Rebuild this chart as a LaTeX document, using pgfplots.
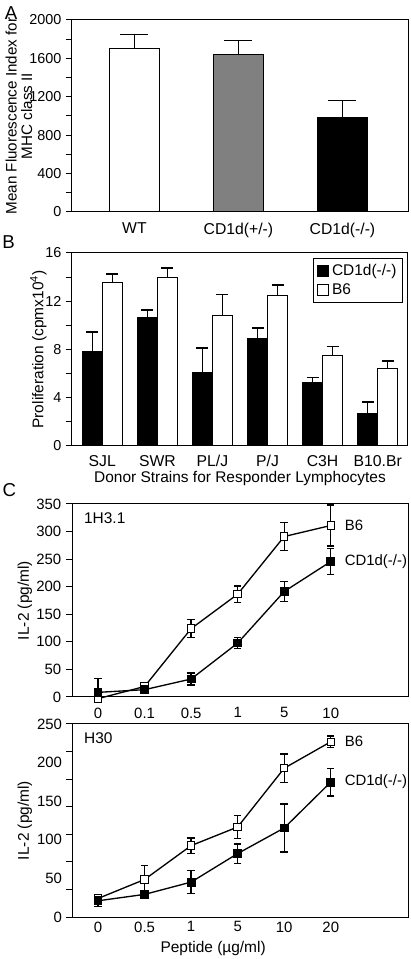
\documentclass[border=0pt]{standalone}
\usepackage{fontspec}
\setmainfont{Liberation Sans}
\usepackage{pgfplots}
\pgfplotsset{compat=1.18}
\begin{document}
\begin{tikzpicture}
\path[use as bounding box] (0,0) rectangle (307.5pt,719.25pt);
\pgfplotsset{
  common/.style={
    scale only axis, width=252pt, height=144.75pt,
    axis line style={line width=0.75pt, black},
    tick align=outside, ytick pos=left, xtick pos=bottom,
    major tick length=4.5pt, minor tick length=4.5pt,
    every tick/.style={black, line width=0.75pt},
    xtick style={draw=none},
    /pgf/number format/assume math mode=true,
    /pgf/number format/1000 sep={},
    tick label style={font=\fontsize{10.8}{12}\selectfont},
    xticklabel style={font=\fontsize{11.8}{13}\selectfont},
    label style={font=\fontsize{11.6}{13.5}\selectfont},
  },
  errstyle/.style={
    error bars/error bar style={line width=1pt, black},
    error bars/error mark options={rotate=90, mark size=#1, line width=1pt, black},
  },
}
% ---------- Panel A ----------
\node[font=\fontsize{14}{15}\selectfont] at (8.25pt,709.5pt) {A};
\begin{axis}[common, at={(54pt,560.25pt)}, anchor=south west, height=144pt,
  ymin=0, ymax=2000, ytick={0,400,...,2000}, minor ytick={200,600,...,1800},
  xmin=-0.6, xmax=2.63, xtick={0,1,2}, xticklabels={WT, CD1d(+/-), CD1d(-/-)},
  ylabel={Mean Fluorescence Index for\\MHC class II},
  ylabel style={at={(axis description cs:-0.158,0.5)}, anchor=center, align=center,
    font=\fontsize{11.4}{11.6}\selectfont},
]
\addplot[ybar, bar shift=0pt, bar width=37.5pt, fill=white, draw=black, line width=0.75pt,
  errstyle=10.5pt, error bars/.cd, y dir=plus, y explicit]
  coordinates {(0,1705) +- (0,142)};
\addplot[ybar, bar shift=0pt, bar width=37.5pt, fill=black!50, draw=black, line width=0.75pt,
  errstyle=10.5pt, error bars/.cd, y dir=plus, y explicit]
  coordinates {(1,1636) +- (0,149)};
\addplot[ybar, bar shift=0pt, bar width=37.5pt, fill=black, draw=black, line width=0.75pt,
  errstyle=10.5pt, error bars/.cd, y dir=plus, y explicit]
  coordinates {(2,988) +- (0,173)};
\end{axis}
% ---------- Panel B ----------
\node[font=\fontsize{14}{15}\selectfont] at (6.5pt,537.75pt) {B};
\begin{axis}[common, at={(54pt,384.75pt)}, anchor=south west,
  ybar=0pt, bar width=15pt,
  ymin=0, ymax=16, ytick={0,4,...,16}, minor ytick={2,6,10,14},
  xmin=-0.55, xmax=5.55, xtick={0,...,5}, xticklabels={SJL,SWR,PL/J,P/J,C3H,B10.Br},
  xticklabel style={yshift=1pt},
  ylabel={Proliferation (cpmx10\textsuperscript{4})},
  ylabel style={at={(axis description cs:-0.1,0.5)}, anchor=center},
  xlabel={Donor Strains for Responder Lymphocytes},
  xlabel style={at={(axis description cs:0.5,-0.168)}, anchor=center},
  legend style={at={(axis description cs:0.985,0.975)}, anchor=north east,
    draw=black, line width=0.75pt, font=\fontsize{11.6}{13}\selectfont,
    row sep=0.5pt, inner sep=2.5pt},
  legend cell align=left,
]
\addplot[fill=black, draw=black, line width=0.75pt, errstyle=4.5pt,
  legend image code/.code={\draw[fill=black,draw=black,line width=0.75pt] (0pt,-4.2pt) rectangle (8.4pt,4.2pt);},
  error bars/.cd, y dir=plus, y explicit]
  coordinates {(0,7.87) +- (0,1.59) (1,10.66) +- (0,0.61) (2,6.12) +- (0,2.0)
               (3,8.88) +- (0,0.91) (4,5.23) +- (0,0.47) (5,2.73) +- (0,0.92)};
\addlegendentry{CD1d(-/-)}
\addplot[fill=white, draw=black, line width=0.75pt, errstyle=4.5pt,
  legend image code/.code={\draw[fill=white,draw=black,line width=0.75pt] (0pt,-4.2pt) rectangle (8.4pt,4.2pt);},
  error bars/.cd, y dir=plus, y explicit]
  coordinates {(0,13.52) +- (0,0.73) (1,13.97) +- (0,0.78) (2,10.8) +- (0,1.78)
               (3,12.47) +- (0,0.89) (4,7.54) +- (0,0.72) (5,6.43) +- (0,0.61)};
\addlegendentry{B6}
\end{axis}
% ---------- Panel C top ----------
\node[font=\fontsize{14}{15}\selectfont] at (7pt,351.75pt) {C};
\begin{axis}[common, at={(54pt,196.5pt)}, anchor=south west, clip=false,
  ymin=0, ymax=350, ytick={0,50,...,350},
  xmin=-0.56, xmax=6.66, xtick={0,...,5}, xticklabels={0,0.1,0.5,1,5,10},
  tick label style={font=\fontsize{11.2}{12}\selectfont},
  xticklabel style={font=\fontsize{11.2}{12}\selectfont},
  ylabel={IL-2 (pg/ml)},
  ylabel style={at={(axis description cs:-0.14,0.5)}, anchor=center},
]
\addplot[black, line width=1pt, mark=square*, mark size=2.8pt,
  mark options={fill=white, draw=black, line width=0.75pt}, errstyle=2.8pt,
  error bars/.cd, y dir=both, y explicit]
  coordinates {(0,-3) +- (0,7) (1,19) +- (0,5) (2,124) +- (0,16)
               (3,186.5) +- (0,15) (4,291) +- (0,25) (5,311) +- (0,37)};
\addplot[black, line width=1pt, mark=square*, mark size=2.8pt,
  mark options={fill=black, draw=black}, errstyle=2.8pt,
  error bars/.cd, y dir=both, y explicit]
  coordinates {(0,8.4) += (0,25) -= (0,0) (1,13.3) +- (0,5) (2,32.6) +- (0,11)
               (3,97.8) +- (0,10) (4,191.3) +- (0,18) (5,245.6) +- (0,24)};
\node[anchor=west, font=\fontsize{11.6}{13}\selectfont] at (axis description cs:0.022,0.927) {1H3.1};
\node[anchor=west, font=\fontsize{11.2}{12}\selectfont] at (axis cs:5,311) [xshift=7pt] {B6};
\node[anchor=west, font=\fontsize{11.2}{12}\selectfont] at (axis cs:5,245.6) [xshift=7pt] {CD1d(-/-)};
\end{axis}
% ---------- Panel C bottom ----------
\begin{axis}[common, at={(54pt,31.5pt)}, anchor=south west, clip=false,
  ymin=0, ymax=250, ytick={0,50,...,250}, major tick length=0pt,
  minor ytick={0,35.714,71.429,107.143,142.857,178.571,214.286,250},
  xmin=-0.56, xmax=6.66, xtick={0,...,5}, xticklabels={0,0.5,1,5,10,20},
  tick label style={font=\fontsize{11.2}{12}\selectfont},
  xticklabel style={font=\fontsize{11.2}{12}\selectfont},
  yticklabel style={xshift=-4pt},
  ylabel={IL-2 (pg/ml)},
  ylabel style={at={(axis description cs:-0.14,0.5)}, anchor=center},
  xlabel={Peptide (µg/ml)},
  xlabel style={at={(axis description cs:0.42,-0.165)}, anchor=center},
]
\addplot[black, line width=1pt, mark=square*, mark size=2.8pt,
  mark options={fill=white, draw=black, line width=0.75pt}, errstyle=2.8pt,
  error bars/.cd, y dir=both, y explicit]
  coordinates {(0,24) +- (0,5) (1,48.6) +- (0,18) (2,92.5) +- (0,10)
               (3,116.6) +- (0,14.6) (4,192.7) +- (0,18.6) (5,227) +- (0,7.5)};
\addplot[black, line width=1pt, mark=square*, mark size=2.8pt,
  mark options={fill=black, draw=black}, errstyle=2.8pt,
  error bars/.cd, y dir=both, y explicit]
  coordinates {(0,21) +- (0,7) (1,29.3) +- (0,4) (2,45.2) +- (0,15)
               (3,82.2) +- (0,12.5) (4,115.3) +- (0,31) (5,174.7) +- (0,18)};
\node[anchor=west, font=\fontsize{11.6}{13}\selectfont] at (axis description cs:0.022,0.927) {H30};
\node[anchor=west, font=\fontsize{11.2}{12}\selectfont] at (axis cs:5,227) [xshift=7pt] {B6};
\node[anchor=west, font=\fontsize{11.2}{12}\selectfont] at (axis cs:5,174.7) [xshift=7pt] {CD1d(-/-)};
\end{axis}
\end{tikzpicture}
\end{document}
